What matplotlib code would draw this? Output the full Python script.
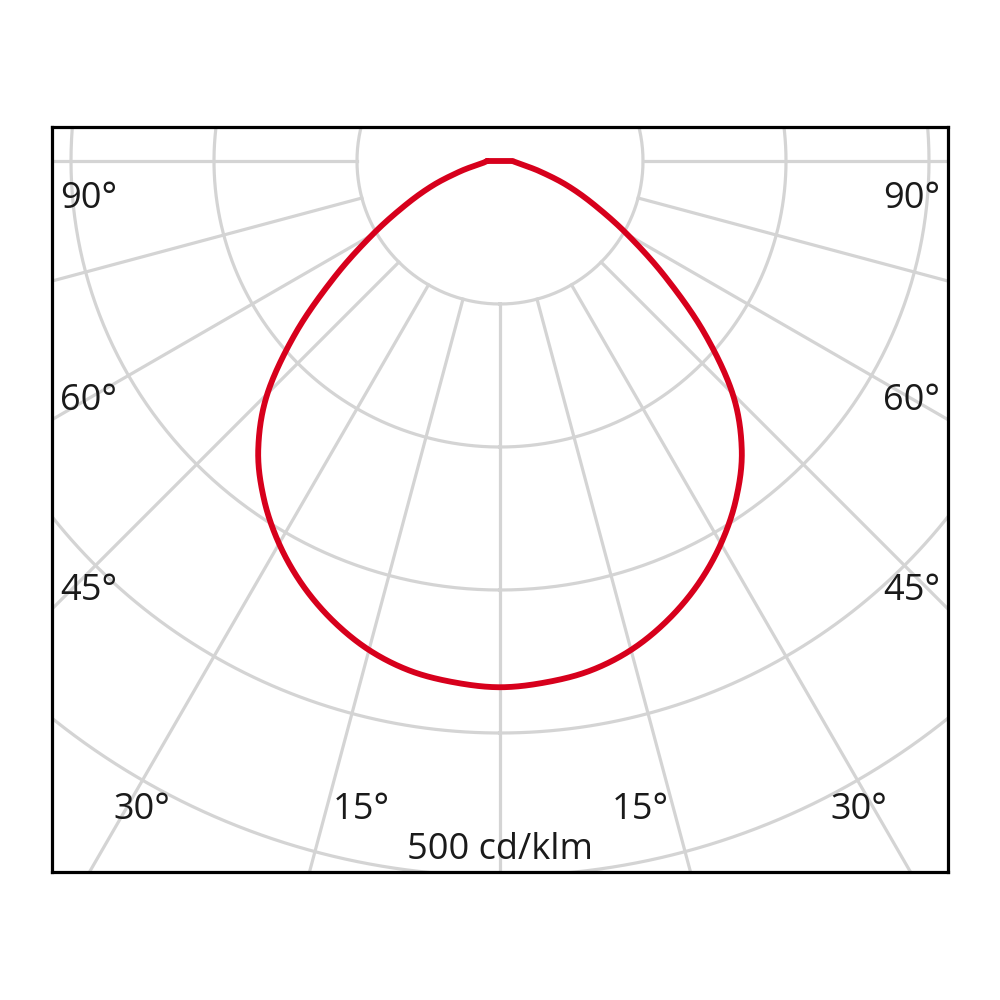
import numpy as np
import matplotlib
matplotlib.use("Agg")
import matplotlib.pyplot as plt

# Luminous intensity (cd/klm) vs. angle from nadir (symmetric C-plane)
angles_deg = [0, 5, 10, 15, 20, 25, 30, 35, 40, 45, 50, 55, 60, 65, 70, 75, 80, 85, 90]
intensity = [368, 366, 362, 354, 342, 327, 309, 288, 263, 230, 186, 141, 103, 73, 50, 30, 17, 11, 9]

ring_values = [100, 200, 300, 400, 500, 600]
spoke_angles = list(range(-180, 180, 15))
label_text_left = ["90°", "60°", "45°", "30°", "15°"]
label_text_right = ["90°", "60°", "45°", "30°", "15°"]
scale_label = "500 cd/klm"

plt.rcParams['font.family'] = ['Open Sans', 'DejaVu Sans']

fig = plt.figure(figsize=(10, 10), dpi=100)
fig.patch.set_facecolor('white')

px_per_unit = 1.43
cx_px, cy_px = 500, 161
left_px, right_px, top_px, bot_px = 52, 948, 127, 872

ax = fig.add_axes([left_px / 1000, 1 - bot_px / 1000,
                   (right_px - left_px) / 1000, (bot_px - top_px) / 1000])
ax.set_xlim((left_px - cx_px) / px_per_unit, (right_px - cx_px) / px_per_unit)
ax.set_ylim(-(bot_px - cy_px) / px_per_unit, (cy_px - top_px) / px_per_unit)
ax.set_xticks([])
ax.set_yticks([])
for s in ax.spines.values():
    s.set_linewidth(2.3)
    s.set_color('black')
    s.set_zorder(10)

grid_col = '#d4d4d4'
t = np.linspace(0, 2 * np.pi, 721)
for rv in ring_values:
    ax.plot(rv * np.sin(t), -rv * np.cos(t), color=grid_col, lw=2.3, zorder=1)

r_in, r_out = ring_values[0], 900
for a in spoke_angles:
    ar = np.deg2rad(a)
    ax.plot([r_in * np.sin(ar), r_out * np.sin(ar)],
            [-r_in * np.cos(ar), -r_out * np.cos(ar)],
            color=grid_col, lw=2.3, zorder=1)

ang = np.deg2rad(np.array(angles_deg, dtype=float))
I = np.array(intensity, dtype=float)
full_ang = np.concatenate([-ang[::-1], ang[1:]])
full_I = np.concatenate([I[::-1], I[1:]])


def catmull(xs, ys, n=40):
    pts = np.column_stack([xs, ys])
    pts = np.vstack([pts[0] * 2 - pts[1], pts, pts[-1] * 2 - pts[-2]])
    out = []
    for i in range(1, len(pts) - 2):
        p0, p1, p2, p3 = pts[i - 1], pts[i], pts[i + 1], pts[i + 2]
        tt = np.linspace(0, 1, n, endpoint=False)[:, None]
        out.append(0.5 * ((2 * p1) + (-p0 + p2) * tt + (2 * p0 - 5 * p1 + 4 * p2 - p3) * tt ** 2
                          + (-p0 + 3 * p1 - 3 * p2 + p3) * tt ** 3))
    out.append(pts[-2][None, :])
    return np.vstack(out)


xs = full_I * np.sin(full_ang)
ys = -full_I * np.cos(full_ang)
curve = catmull(xs, ys)
curve = np.vstack([curve, curve[:1]])
ax.plot(curve[:, 0], curve[:, 1], color='#d7001c', lw=4.2, zorder=5,
        solid_joinstyle='round', solid_capstyle='round')

fs = 26
tc = '#1a1a1a'
left_pos = [(88.5, 199), (88.5, 401), (88.5, 591), (141.5, 810), (361, 810)]
right_pos = [(911.5, 199), (911.5, 401), (911.5, 591), (859, 810), (640, 810)]
for txt, (x, y) in zip(label_text_left, left_pos):
    fig.text(x / 1000, 1 - y / 1000, txt, ha='center', va='center', fontsize=fs, color=tc, zorder=20)
for txt, (x, y) in zip(label_text_right, right_pos):
    fig.text(x / 1000, 1 - y / 1000, txt, ha='center', va='center', fontsize=fs, color=tc, zorder=20)
fig.text(0.5, 1 - 850 / 1000, scale_label, ha='center', va='center', fontsize=fs, color=tc, zorder=20)

fig.savefig('out.png', dpi=100, facecolor='white')
